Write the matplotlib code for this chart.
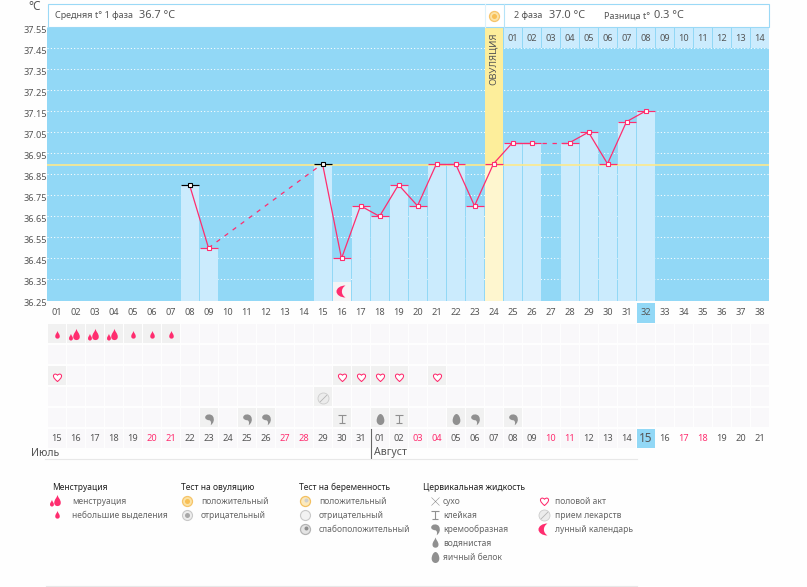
import matplotlib
matplotlib.use('Agg')
import matplotlib.pyplot as plt
from matplotlib.path import Path
from matplotlib.patches import Rectangle
from matplotlib.transforms import ScaledTranslation, Affine2D

plt.rcParams['font.family'] = ['Noto Sans', 'DejaVu Sans']

W, H = 807, 587

# chart data
days = [8, 9, 15, 16, 17, 18, 19, 20, 21, 22, 23, 24, 25, 26, 28, 29, 30, 31, 32]
temps = [36.80, 36.50, 36.90, 36.45, 36.70, 36.65, 36.80, 36.70, 36.90, 36.90, 36.70,
         36.90, 37.00, 37.00, 37.00, 37.05, 36.90, 37.10, 37.15]
black_days = [8, 15]
ovulation_day = 24
today = 32
cover_line = 36.896
ytick_values = [36.25, 36.35, 36.45, 36.55, 36.65, 36.75, 36.85, 36.95,
                37.05, 37.15, 37.25, 37.35, 37.45, 37.55]
phase2_days = ['01', '02', '03', '04', '05', '06', '07', '08', '09', '10', '11', '12', '13', '14']
moon_day = 16

# calendar rows
cycle_labels = ['%02d' % d for d in range(1, 39)]
date_labels = ['15', '16', '17', '18', '19', '20', '21', '22', '23', '24', '25', '26', '27',
               '28', '29', '30', '31', '01', '02', '03', '04', '05', '06', '07', '08', '09',
               '10', '11', '12', '13', '14', '15', '16', '17', '18', '19', '20', '21']
red_dates = [6, 7, 13, 14, 20, 21, 27, 28, 34, 35]
small_flow = [1, 5, 6, 7]
big_flow = [2, 3, 4]
love_days = [1, 16, 17, 18, 19, 21]
pill_days = [15]
creamy_days = [9, 11, 12, 23, 25]
sticky_days = [16, 19]
egg_days = [18, 22]

# legend
legend_titles = ['Менструация', 'Тест на овуляцию', 'Тест на беременность', 'Цервикальная жидкость']
flow_items = ['менструация', 'небольшие выделения']
ovul_items = ['положительный', 'отрицательный']
preg_items = ['положительный', 'отрицательный', 'слабоположительный']
fluid_items = ['сухо', 'клейкая', 'кремообразная', 'водянистая', 'яичный белок']
other_items = ['половой акт', 'прием лекарств', 'лунный календарь']

BG = '#92d8f6'
BAR = '#cbebfd'
PINK = '#ff2d6f'
TXT = '#555555'
GREY = '#909090'
CELL = '#f9f8fa'
CELL_ON = '#f1f1f1'


def drop_path():
    return Path([(0, 1), (0.12, 0.55), (0.5, 0.3), (0.5, -0.2), (0.5, -0.55), (0.25, -0.7), (0, -0.7),
                 (-0.25, -0.7), (-0.5, -0.55), (-0.5, -0.2), (-0.5, 0.3), (-0.12, 0.55), (0, 1)],
                [1, 4, 4, 4, 4, 4, 4, 4, 4, 4, 4, 4, 4])


def two_drops():
    big = drop_path()
    small = drop_path().transformed(Affine2D().scale(0.6).translate(-0.85, -0.35))
    return Path.make_compound_path(big, small)


def egg_path():
    return Path([(0, 1), (0.35, 1), (0.7, 0.4), (0.7, -0.2), (0.7, -0.7), (0.35, -1), (0, -1),
                 (-0.35, -1), (-0.7, -0.7), (-0.7, -0.2), (-0.7, 0.4), (-0.35, 1), (0, 1)],
                [1, 4, 4, 4, 4, 4, 4, 4, 4, 4, 4, 4, 4])


def heart_path():
    return Path([(0, -1), (-0.6, -0.45), (-1, -0.1), (-1, 0.4), (-1, 0.85), (-0.4, 1.05), (0, 0.55),
                 (0.4, 1.05), (1, 0.85), (1, 0.4), (1, -0.1), (0.6, -0.45), (0, -1)],
                [1, 4, 4, 4, 4, 4, 4, 4, 4, 4, 4, 4, 4])


def comma_path():
    return Path([(-0.75, 0.45), (-0.6, 1), (0.3, 1.05), (0.6, 0.55), (0.95, 0), (0.7, -0.7), (0.2, -1),
                 (0.35, -0.55), (0.25, -0.3), (0.05, -0.15), (-0.4, -0.1), (-0.8, 0), (-0.75, 0.45)],
                [1, 4, 4, 4, 4, 4, 4, 4, 4, 4, 4, 4, 4])


def moon_path():
    return Path([(0.5, 1), (-0.35, 1), (-1, 0.55), (-1, 0), (-1, -0.55), (-0.35, -1), (0.5, -1),
                 (0.05, -0.7), (-0.1, -0.35), (-0.1, 0), (-0.1, 0.35), (0.05, 0.7), (0.5, 1)],
                [1, 4, 4, 4, 4, 4, 4, 4, 4, 4, 4, 4, 4])


def sticky_path():
    return Path([(-1, 1), (1, 1), (0, 1), (0, -1), (-0.8, -1), (0.8, -1)], [1, 2, 1, 2, 1, 2])


slash_path = Path([(-0.7, -0.7), (0.7, 0.7)], [1, 2])


def px(v):
    return v * 72.0 / 100


def icon(ax, x, y, kind, z=6):
    kw = dict(clip_on=False, zorder=z)
    if kind == 'small':
        ax.plot(x, y, marker=drop_path(), ms=px(9), color=PINK, mew=0, **kw)
    elif kind == 'big':
        ax.plot(x, y, marker=two_drops(), ms=px(15), color=PINK, mew=0, **kw)
    elif kind == 'heart':
        ax.plot(x, y, marker=heart_path(), ms=px(8.5), mfc='white', mec=PINK, mew=0.75, **kw)
    elif kind == 'pill':
        ax.plot(x, y, 'o', ms=px(11), mfc='#ececec', mec='#cccccc', mew=0.6, **kw)
        ax.plot(x, y, marker=slash_path, ms=px(7), mfc='none', mec='#b4b4b4', mew=0.6, **kw)
    elif kind == 'comma':
        ax.plot(x, y, marker=comma_path(), ms=px(12), color=GREY, mew=0, **kw)
    elif kind == 'sticky':
        ax.plot(x, y, marker=sticky_path(), ms=px(8.5), mfc='none', mec=GREY, mew=0.8, **kw)
    elif kind == 'egg':
        ax.plot(x, y, marker=egg_path(), ms=px(11), color=GREY, mew=0, **kw)
    elif kind == 'water':
        ax.plot(x, y, marker=drop_path(), ms=px(12), color=GREY, mew=0, **kw)
    elif kind == 'dry':
        ax.plot(x, y, marker='x', ms=px(8), color='#8c8c8c', mew=0.4, **kw)
    elif kind == 'moon':
        ax.plot(x, y, marker=moon_path(), ms=px(12), color=PINK, mew=0, **kw)
    elif kind == 'sun':
        ax.plot(x, y, 'o', ms=px(10), mfc='#fbe3a6', mec='#f6c469', mew=0.9, **kw)
        ax.plot(x, y, 'o', ms=px(5), color='#f8bf55', mew=0, **kw)
    elif kind == 'neg':
        ax.plot(x, y, 'o', ms=px(10), mfc='#ededed', mec='#c8c8c8', mew=0.8, **kw)
        ax.plot(x, y, 'o', ms=px(5), color='#a8a8a8', mew=0, **kw)
    elif kind == 'preg_pos':
        ax.plot(x, y, 'o', ms=px(10), mfc='#fbe9bd', mec='#f3c060', mew=0.9, **kw)
        ax.plot(x + 1, y - 1, 'o', ms=px(4), color='#cfcfcf', mew=0, **kw)
    elif kind == 'preg_neg':
        ax.plot(x, y, 'o', ms=px(10), mfc='#f2f2f2', mec='#c8c8c8', mew=0.8, **kw)
    elif kind == 'preg_weak':
        ax.plot(x, y, 'o', ms=px(10), mfc='#e4e4e4', mec='#b4b4b4', mew=0.9, **kw)
        ax.plot(x + 1, y - 1, 'o', ms=px(4), color='#8f8f8f', mew=0, **kw)


fig = plt.figure(figsize=(W / 100, H / 100), dpi=100, facecolor='#fefefe')


def add_px_axes(x0, y0, x1, y1):
    return fig.add_axes([x0 / W, 1 - y1 / H, (x1 - x0) / W, (y1 - y0) / H])


# main chart
ax = add_px_axes(47, 27, 769, 300.5)
ax.set_zorder(2)
ax.set_facecolor(BG)
ax.set_xlim(0.5, 38.5)
ax.set_ylim(36.25, 37.55)
for s in ax.spines.values():
    s.set_visible(False)
ax.set_yticks(ytick_values)
ax.set_yticklabels(['%.2f' % v for v in ytick_values])
ax.set_xticks(range(1, 39))
ax.set_xticklabels(cycle_labels)
ax.tick_params(length=0, labelsize=6.6, labelcolor=TXT)
ax.tick_params(axis='y', pad=0)
ax.tick_params(axis='x', pad=5.5)
off = ScaledTranslation(0, -2 / 72 * 0.72, fig.dpi_scale_trans)
for lab in ax.get_yticklabels():
    lab.set_transform(lab.get_transform() + off)
ax.grid(axis='y', color='white', lw=0.75, ls=(0, (1, 2.2)), zorder=1)
ax.set_axisbelow(True)

bar_w = 18 / 19
ax.bar(ovulation_day, 1.3, bottom=36.25, width=bar_w, color='#fdee9b', zorder=2)
for d, t in zip(days, temps):
    c = '#fef6cf' if d == ovulation_day else BAR
    ax.bar(d, t - 36.25, bottom=36.25, width=bar_w, color=c, zorder=2)

ax.bar(range(25, 39), 0.1, bottom=37.45, width=bar_w, color=BAR, zorder=2)
for i, lab in enumerate(phase2_days):
    ax.text(25 + i, 37.495, lab, ha='center', va='center', fontsize=6.6, color=TXT, zorder=3)

ax.bar(moon_day, 0.09, bottom=36.25, width=bar_w, color='#f4f3f5', zorder=3)
icon(ax, moon_day, 36.295, 'moon')
ax.text(ovulation_day, 37.525, 'ОВУЛЯЦИЯ', rotation=90, ha='center', va='top', fontsize=6.9,
        color=TXT, zorder=3)
ax.axhline(cover_line, color='#fde98c', lw=1.2, zorder=4)

for i in range(len(days) - 1):
    adjacent = days[i + 1] - days[i] == 1
    ax.plot(days[i:i + 2], temps[i:i + 2], color=PINK, lw=0.9, zorder=5,
            ls='-' if adjacent else (0, (3.5, 4.5)))
for d, t in zip(days, temps):
    c = 'black' if d in black_days else PINK
    ax.plot([d - bar_w / 2, d + bar_w / 2], [t, t], color=c, lw=0.85, zorder=5, solid_capstyle='butt')
    ax.plot(d, t, 's', ms=3.4, mfc='white', mec=c, mew=0.8, zorder=6)

# calendar under the chart
low = add_px_axes(47, 303, 769, 450)
low.set_zorder(1)
low.set_xlim(0.5, 38.5)
low.set_ylim(7, 0)
low.axis('off')
low.patch.set_visible(False)

filled = {1: small_flow + big_flow, 3: love_days, 4: pill_days, 5: creamy_days + sticky_days + egg_days}
for r in range(1, 6):
    for d in range(1, 39):
        c = CELL_ON if d in filled.get(r, []) else CELL
        low.add_patch(Rectangle((d - bar_w / 2, r + 0.02), bar_w, 0.9, fc=c, ec='none'))
for d in range(1, 32):
    low.add_patch(Rectangle((d - bar_w / 2, 6.02), bar_w, 0.9, fc=CELL, ec='none'))
low.add_patch(Rectangle((today - bar_w / 2, 0), bar_w, 0.95, fc=BG, ec='none', zorder=0))
low.add_patch(Rectangle((today - bar_w / 2, 5.98), bar_w, 0.92, fc=BG, ec='none', zorder=1))

for d in small_flow:
    icon(low, d, 1.5, 'small')
for d in big_flow:
    icon(low, d, 1.5, 'big')
for d in love_days:
    icon(low, d, 3.5, 'heart')
for d in pill_days:
    icon(low, d, 4.5, 'pill')
for d in creamy_days:
    icon(low, d, 5.5, 'comma')
for d in sticky_days:
    icon(low, d, 5.5, 'sticky')
for d in egg_days:
    icon(low, d, 5.5, 'egg')

for i, lab in enumerate(date_labels):
    d = i + 1
    c = PINK if d in red_dates else TXT
    size = 8.5 if d == today else 6.6
    low.text(d, 6.47, lab, ha='center', va='center', fontsize=size, color=c, zorder=3)

# page overlay: header box, month names, legend
page = fig.add_axes([0, 0, 1, 1], zorder=5)
page.set_xlim(0, W)
page.set_ylim(H, 0)
page.axis('off')
page.patch.set_visible(False)

page.add_patch(Rectangle((47.5, 3.5), 721, 23.5, fc='white', ec='#9bd9f6', lw=0.8))
page.plot([484.5, 484.5], [3.5, 27], color='#ddf2fc', lw=0.8)
page.plot([503.5, 503.5], [3.5, 27], color='#b5e3f8', lw=0.8)
icon(page, 494, 16, 'sun')
page.text(35, 7, '°C', ha='center', va='center', fontsize=8.5, color=TXT)
page.text(55, 16, 'Средняя t° 1 фаза', va='center', fontsize=6.5, color=TXT)
page.text(139, 15.5, '36.7 °C', va='center', fontsize=7.9, color=TXT)
page.text(514, 16, '2 фаза', va='center', fontsize=6.5, color=TXT)
page.text(549, 15.5, '37.0 °C', va='center', fontsize=7.9, color=TXT)
page.text(604, 16, 'Разница t°', va='center', fontsize=6.5, color=TXT)
page.text(654, 15.5, '0.3 °C', va='center', fontsize=7.9, color=TXT)

page.text(31, 453, 'Июль', va='center', fontsize=7.6, color=TXT)
page.text(374, 453, 'Август', va='center', fontsize=7.6, color=TXT)
page.plot([370.5, 370.5], [429, 458], color='#666666', lw=0.8)
page.plot([45, 637], [458.5, 458.5], color='#e8e8e8', lw=0.8)
page.plot([46, 637], [586, 586], color='#e8e8e8', lw=0.8)

title_x = [52, 181, 299, 423]
for x, t in zip(title_x, legend_titles):
    page.text(x, 487, t, va='center', fontsize=6.1, color='#222222')

groups = [(flow_items, ['big', 'small'], 57, 72),
          (ovul_items, ['sun', 'neg'], 187, 201),
          (preg_items, ['preg_pos', 'preg_neg', 'preg_weak'], 305, 319),
          (fluid_items, ['dry', 'sticky', 'comma', 'water', 'egg'], 435, 443),
          (other_items, ['heart', 'pill', 'moon'], 544, 555)]
for items, kinds, ix, tx in groups:
    for j, (t, k) in enumerate(zip(items, kinds)):
        y = 501 + j * 14
        icon(page, ix, y, k)
        page.text(tx, y, t, va='center', fontsize=6.1, color='#666666')

fig.savefig('out.png', dpi=100, facecolor=fig.get_facecolor())
